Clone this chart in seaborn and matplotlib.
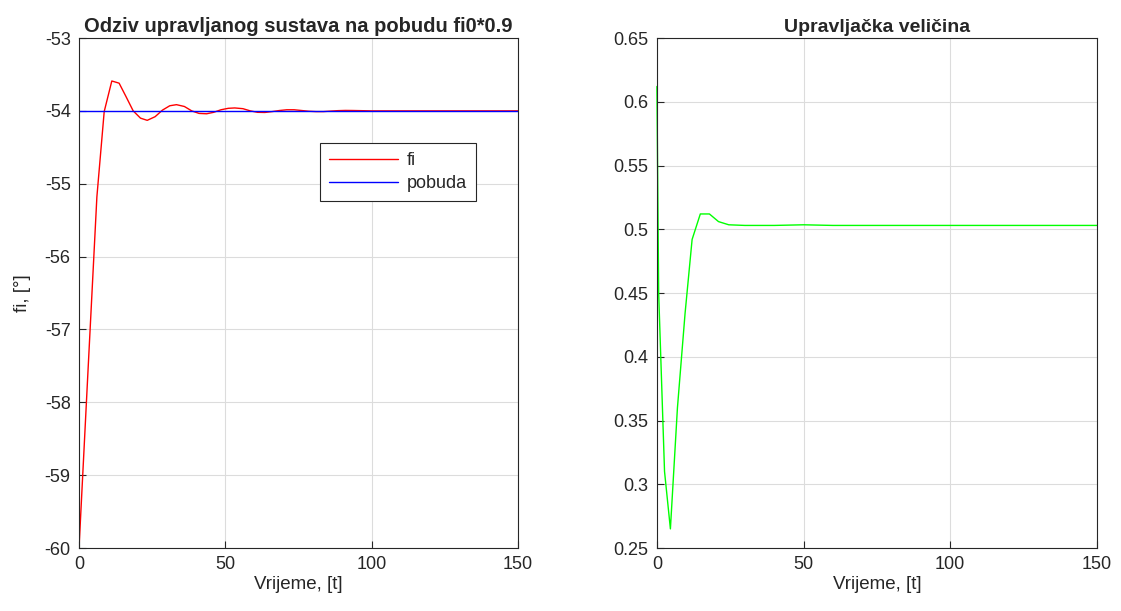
import numpy as np
import pandas as pd
import matplotlib
matplotlib.use("Agg")
import matplotlib.pyplot as plt
import seaborn as sns

# odziv kuta fi
t_fi = [0, 3.0, 6.1, 8.6, 11.2, 13.7, 16, 18.5, 21, 23.3, 26, 28.5, 31, 33.3, 36, 38.5,
        41, 43.6, 46, 48.5, 51, 53.2, 56, 58.5, 61, 63.5, 66, 68.5, 71, 73.5, 76, 78.5,
        81, 83.5, 86, 88.5, 91, 93.5, 100, 110, 120, 130, 140, 150]
fi = [-60, -57.62, -55.18, -54.01, -53.59, -53.62, -53.80, -54.00, -54.10, -54.13, -54.08,
      -53.99, -53.93, -53.915, -53.94, -54.00, -54.035, -54.04, -54.02, -53.985, -53.965,
      -53.96, -53.97, -54.00, -54.02, -54.022, -54.01, -53.995, -53.985, -53.985, -53.995,
      -54.005, -54.01, -54.01, -54.003, -53.997, -53.994, -53.995, -54.0, -54.0, -54.0,
      -54.0, -54.0, -54.0]
t_pob = [0, 150]
pobuda = [-54, -54]

# upravljacka velicina
t_u = [0, 0.6, 2.6, 4.6, 7.0, 9.6, 12.0, 14.8, 17.9, 21.0, 24.5, 30, 40, 50, 60, 80,
       100, 120, 150]
u = [0.612, 0.45, 0.31, 0.265, 0.36, 0.434, 0.492, 0.512, 0.512, 0.506, 0.5035, 0.503,
     0.503, 0.5035, 0.503, 0.503, 0.503, 0.503, 0.503]

sns.set_style("whitegrid")
plt.rcParams['font.family'] = ['Liberation Sans', 'DejaVu Sans']
plt.rcParams['axes.unicode_minus'] = False

fig = plt.figure(figsize=(11.21, 6.11), dpi=100)
ax1 = fig.add_axes([0.0705, 0.1031, 0.3916, 0.8347])
ax2 = fig.add_axes([0.586, 0.1031, 0.3925, 0.8347])

df_fi = pd.DataFrame({'t': t_fi, 'y': fi})
df_pob = pd.DataFrame({'t': t_pob, 'y': pobuda})
df_u = pd.DataFrame({'t': t_u, 'y': u})

sns.lineplot(data=df_fi, x='t', y='y', ax=ax1, color='#ff0000', lw=1.0, label='fi')
sns.lineplot(data=df_pob, x='t', y='y', ax=ax1, color='#0000ff', lw=1.0, label='pobuda')
sns.lineplot(data=df_u, x='t', y='y', ax=ax2, color='#00ff00', lw=1.0, legend=False,
             clip_on=False)

ax1.set_xlim(0, 150)
ax1.set_ylim(-60, -53)
ax1.set_yticks(np.arange(-60, -52, 1))
ax2.set_xlim(0, 150)
ax2.set_ylim(0.25, 0.65)
ax2.set_yticks(np.arange(0.25, 0.651, 0.05))
ax2.set_yticklabels(['0.25', '0.3', '0.35', '0.4', '0.45', '0.5', '0.55', '0.6', '0.65'])

for ax in (ax1, ax2):
    ax.set_xticks([0, 50, 100, 150])
    ax.grid(True, color='#dcdcdc', lw=0.8)
    for s in ax.spines.values():
        s.set_color('#262626')
        s.set_linewidth(0.8)
        s.set_visible(True)
    ax.tick_params(direction='in', length=5, width=0.8, colors='#262626',
                   labelsize=13, left=True, bottom=True, right=False, top=False, pad=6)
    ax.set_xlabel('Vrijeme, [t]', fontsize=13.5, color='#262626', labelpad=2)

ax1.set_ylabel('fi, [°]', fontsize=13.5, color='#262626', labelpad=10)
ax2.set_ylabel('')
ax1.set_title('Odziv upravljanog sustava na pobudu fi0*0.9', fontsize=14.5,
              fontweight='bold', pad=4)
ax2.set_title('Upravljačka veličina', fontsize=14, fontweight='bold', pad=4)

leg = ax1.legend(loc='upper right', bbox_to_anchor=(0.904, 0.794), fontsize=13,
                 fancybox=False, framealpha=1, edgecolor='#262626', borderaxespad=0,
                 handlelength=3.8, borderpad=0.5, labelspacing=0.35, handletextpad=0.5)
leg.get_frame().set_linewidth(0.8)

fig.savefig('out.png', dpi=100)
